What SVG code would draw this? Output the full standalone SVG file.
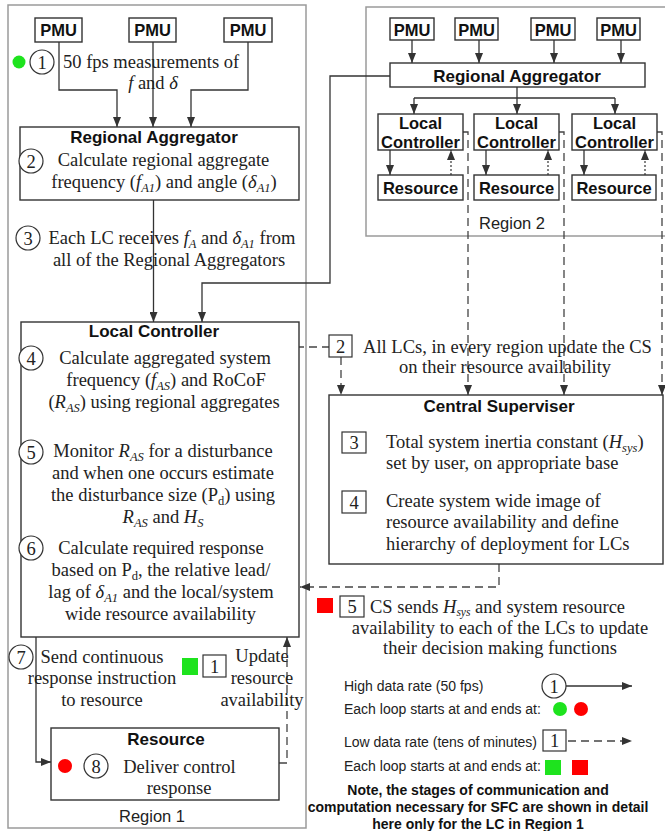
<svg xmlns="http://www.w3.org/2000/svg" width="665" height="831" viewBox="0 0 665 831">
<style>
.region{fill:none;stroke:#9a9a9a;stroke-width:1.5}
.box{fill:#fff;stroke:#333;stroke-width:1.4}
.sbox{fill:#fff;stroke:#333;stroke-width:1.2}
.circ{fill:#fff;stroke:#333;stroke-width:1.2}
.ln{fill:none;stroke:#333;stroke-width:1.3}
.dash{fill:none;stroke:#444;stroke-width:1.3;stroke-dasharray:8,5}
.dot{fill:none;stroke:#444;stroke-width:1.3;stroke-dasharray:2,2}
.t{font-family:"Liberation Serif","Times New Roman",serif;font-size:18.5px;fill:#222}
.tm{text-anchor:middle}
.b{font-family:"Liberation Sans",Arial,sans-serif;font-weight:bold;font-size:17px;fill:#111;text-anchor:middle}
.b16{font-family:"Liberation Sans",Arial,sans-serif;font-weight:bold;font-size:16.5px;fill:#111;text-anchor:middle}
.s{font-family:"Liberation Sans",Arial,sans-serif;font-size:16.5px;fill:#222;text-anchor:middle}
.lg{font-family:"Liberation Sans",Arial,sans-serif;font-size:14px;fill:#222}
.nb{font-family:"Liberation Sans",Arial,sans-serif;font-weight:bold;font-size:14px;fill:#111;text-anchor:middle}
.i{font-style:italic}
</style>
<defs>
<marker id="ah" viewBox="0 0 10 8" refX="10" refY="4" markerWidth="10" markerHeight="8" markerUnits="userSpaceOnUse" orient="auto">
<path d="M0,0 L10,4 L0,8 z" fill="#333"/>
</marker>
</defs>

<!-- Regions -->
<g id="region1">
<rect class="region" x="8" y="5" width="298" height="823"/>
<text class="s" x="152" y="822">Region 1</text>
</g>
<g id="region2">
<rect class="region" x="366" y="7" width="320" height="229"/>
<text class="s" x="512" y="229">Region 2</text>
</g>

<!-- Connectors -->
<g id="connectors">
<path class="ln" d="M59,42 V90 H117 V127" marker-end="url(#ah)"/>
<path class="ln" d="M153,42 V127" marker-end="url(#ah)"/>
<path class="ln" d="M248,42 V90 H191 V127" marker-end="url(#ah)"/>
<path class="ln" d="M153.5,200 V322" marker-end="url(#ah)"/>
<path class="ln" d="M390,76 H330 V283 H202 V322" marker-end="url(#ah)"/>
<path class="ln" d="M36,637 V762 H51" marker-end="url(#ah)"/>
<path class="dash" d="M279,763 H287 V637" marker-end="url(#ah)"/>
<path class="dash" d="M287,637 V347 H329"/>
<path class="dash" d="M341,357 V395" marker-end="url(#ah)"/>
<path class="dash" d="M463,132 H468 V395" marker-end="url(#ah)"/>
<path class="dash" d="M559,132 H564 V395" marker-end="url(#ah)"/>
<path class="dash" d="M657,132 H662 V395" marker-end="url(#ah)"/>
<path class="dash" d="M499,564 V587 H300" marker-end="url(#ah)"/>
<!-- Region 2 internal -->
<path class="ln" d="M412,40 V63" marker-end="url(#ah)"/>
<path class="ln" d="M479,40 V63" marker-end="url(#ah)"/>
<path class="ln" d="M554,40 V63" marker-end="url(#ah)"/>
<path class="ln" d="M621,40 V63" marker-end="url(#ah)"/>
<path class="ln" d="M517,87 V98 M414,98 H615"/>
<path class="ln" d="M414,98 V114" marker-end="url(#ah)"/>
<path class="ln" d="M517,98 V114" marker-end="url(#ah)"/>
<path class="ln" d="M615,98 V114" marker-end="url(#ah)"/>
<path class="ln" d="M390,150 V175" marker-end="url(#ah)"/>
<path class="ln" d="M486,150 V175" marker-end="url(#ah)"/>
<path class="ln" d="M584,150 V175" marker-end="url(#ah)"/>
<path class="dot" d="M451,175 V150" marker-end="url(#ah)"/>
<path class="dot" d="M548,175 V150" marker-end="url(#ah)"/>
<path class="dot" d="M645,175 V150" marker-end="url(#ah)"/>
</g>

<!-- Region 1 PMUs -->
<g id="pmu1a"><rect class="box" x="35" y="18" width="47" height="24"/><text class="b16" x="58.5" y="36">PMU</text></g>
<g id="pmu1b"><rect class="box" x="129" y="18" width="47" height="24"/><text class="b16" x="152.5" y="36">PMU</text></g>
<g id="pmu1c"><rect class="box" x="224" y="18" width="48" height="24"/><text class="b16" x="248" y="36">PMU</text></g>

<g id="step1">
<circle cx="19" cy="62" r="6.5" fill="#1ee31e"/>
<circle class="circ" cx="42" cy="62" r="12"/>
<text class="t tm" x="42" y="68.5">1</text>
<text class="t" x="63" y="67.5">50 fps measurements of</text>
<text class="t tm" x="153" y="88.5"><tspan class="i">f</tspan> and <tspan class="i">δ</tspan></text>
</g>

<!-- Regional Aggregator region 1 -->
<g id="ra1">
<rect class="box" x="20" y="127" width="279" height="73"/>
<text class="b" x="154" y="143">Regional Aggregator</text>
<circle class="circ" cx="31" cy="161" r="12"/>
<text class="t tm" x="31" y="167.5">2</text>
<text class="t tm" x="163.5" y="166">Calculate regional aggregate</text>
<text class="t tm" x="164" y="188">frequency (<tspan class="i">f</tspan><tspan class="i" font-size="12.5" dy="4">A1</tspan><tspan dy="-4">) and angle (</tspan><tspan class="i">δ</tspan><tspan class="i" font-size="12.5" dy="4">A1</tspan><tspan dy="-4">)</tspan></text>
</g>

<g id="step3">
<circle class="circ" cx="28" cy="238" r="12"/>
<text class="t tm" x="28" y="244.5">3</text>
<text class="t tm" x="172" y="244">Each LC receives <tspan class="i">f</tspan><tspan class="i" font-size="12.5" dy="4">A</tspan><tspan dy="-4"> and </tspan><tspan class="i">δ</tspan><tspan class="i" font-size="12.5" dy="4">A1</tspan><tspan dy="-4"> from</tspan></text>
<text class="t tm" x="169" y="266">all of the Regional Aggregators</text>
</g>

<!-- Local Controller region 1 -->
<g id="lc1">
<rect class="box" x="21" y="322" width="278" height="315"/>
<text class="b" x="154" y="337">Local Controller</text>
<circle class="circ" cx="31" cy="358" r="12"/>
<text class="t tm" x="31" y="364.5">4</text>
<text class="t tm" x="165" y="364">Calculate aggregated system</text>
<text class="t tm" x="166" y="386">frequency (<tspan class="i">f</tspan><tspan class="i" font-size="12.5" dy="4">AS</tspan><tspan dy="-4">) and RoCoF</tspan></text>
<text class="t tm" x="164" y="408">(<tspan class="i">R</tspan><tspan class="i" font-size="12.5" dy="4">AS</tspan><tspan dy="-4">) using regional aggregates</tspan></text>
<circle class="circ" cx="31" cy="452" r="12"/>
<text class="t tm" x="31" y="458.5">5</text>
<text class="t tm" x="163" y="457">Monitor <tspan class="i">R</tspan><tspan class="i" font-size="12.5" dy="4">AS</tspan><tspan dy="-4"> for a disturbance</tspan></text>
<text class="t tm" x="163" y="479">and when one occurs estimate</text>
<text class="t tm" x="163" y="501">the disturbance size (P<tspan font-size="12.5" dy="4">d</tspan><tspan dy="-4">) using</tspan></text>
<text class="t tm" x="163" y="523"><tspan class="i">R</tspan><tspan class="i" font-size="12.5" dy="4">AS</tspan><tspan dy="-4"> and </tspan><tspan class="i">H</tspan><tspan class="i" font-size="12.5" dy="4">S</tspan></text>
<circle class="circ" cx="31" cy="548" r="12"/>
<text class="t tm" x="31" y="554.5">6</text>
<text class="t tm" x="161" y="554">Calculate required response</text>
<text class="t tm" x="161" y="576">based on P<tspan font-size="12.5" dy="4">d</tspan><tspan dy="-4">, the relative lead/</tspan></text>
<text class="t tm" x="161" y="598">lag of <tspan class="i">δ</tspan><tspan class="i" font-size="12.5" dy="4">A1</tspan><tspan dy="-4"> and the local/system</tspan></text>
<text class="t tm" x="160.5" y="620">wide resource availability</text>
</g>

<g id="step7">
<circle class="circ" cx="21" cy="657" r="12"/>
<text class="t tm" x="21" y="663.5">7</text>
<text class="t tm" x="102" y="663">Send continuous</text>
<text class="t tm" x="102" y="684">response instruction</text>
<text class="t tm" x="102" y="706">to resource</text>
</g>

<g id="update1">
<rect x="182" y="658" width="16" height="17" fill="#1ee31e"/>
<rect class="sbox" x="203" y="655" width="23" height="22"/>
<text class="t tm" x="214.5" y="672.5">1</text>
<text class="t tm" x="262" y="662">Update</text>
<text class="t tm" x="262" y="684">resource</text>
<text class="t tm" x="262" y="706">availability</text>
</g>

<!-- Resource region 1 -->
<g id="res1">
<rect class="box" x="51" y="728" width="228" height="72"/>
<text class="b" x="166" y="745">Resource</text>
<circle cx="65" cy="766" r="7" fill="#f00"/>
<circle class="circ" cx="96" cy="766" r="12"/>
<text class="t tm" x="96" y="772.5">8</text>
<text class="t tm" x="179.5" y="773">Deliver control</text>
<text class="t tm" x="179" y="794">response</text>
</g>

<!-- Region 2 nodes -->
<g id="pmu2a"><rect class="box" x="390" y="18" width="44" height="22"/><text class="b16" x="412" y="35.5">PMU</text></g>
<g id="pmu2b"><rect class="box" x="455" y="18" width="43" height="22"/><text class="b16" x="476.5" y="35.5">PMU</text></g>
<g id="pmu2c"><rect class="box" x="531" y="18" width="44" height="22"/><text class="b16" x="553" y="35.5">PMU</text></g>
<g id="pmu2d"><rect class="box" x="597" y="18" width="43" height="22"/><text class="b16" x="618.5" y="35.5">PMU</text></g>
<g id="ra2"><rect class="box" x="390" y="63" width="255" height="24"/><text class="b" x="517" y="81.5">Regional Aggregator</text></g>
<g id="lc2a"><rect class="box" x="378" y="114" width="85" height="36"/><text class="b16" x="420.5" y="129">Local</text><text class="b16" x="420.5" y="147.5">Controller</text></g>
<g id="lc2b"><rect class="box" x="474" y="114" width="85" height="36"/><text class="b16" x="516.5" y="129">Local</text><text class="b16" x="516.5" y="147.5">Controller</text></g>
<g id="lc2c"><rect class="box" x="572" y="114" width="85" height="36"/><text class="b16" x="614.5" y="129">Local</text><text class="b16" x="614.5" y="147.5">Controller</text></g>
<g id="res2a"><rect class="box" x="378" y="175" width="85" height="25"/><text class="b16" x="420.5" y="193.5">Resource</text></g>
<g id="res2b"><rect class="box" x="474" y="175" width="85" height="25"/><text class="b16" x="516.5" y="193.5">Resource</text></g>
<g id="res2c"><rect class="box" x="572" y="175" width="84" height="25"/><text class="b16" x="614" y="193.5">Resource</text></g>

<!-- Step 2 CS update -->
<g id="step2cs">
<rect class="sbox" x="329" y="335" width="23" height="22"/>
<text class="t tm" x="340.5" y="352.5">2</text>
<text class="t tm" x="507.5" y="353">All LCs, in every region update the CS</text>
<text class="t tm" x="505" y="373">on their resource availability</text>
</g>

<!-- Central Superviser -->
<g id="cs">
<rect class="box" x="329" y="395" width="334" height="169"/>
<text class="b" x="499" y="412">Central Superviser</text>
<rect class="sbox" x="342" y="432" width="24" height="21"/>
<text class="t" x="354" y="449" text-anchor="middle">3</text>
<text class="t" x="386" y="448">Total system inertia constant (<tspan class="i">H</tspan><tspan class="i" font-size="12.5" dy="4">sys</tspan><tspan dy="-4">)</tspan></text>
<text class="t" x="386" y="469">set by user, on appropriate base</text>
<rect class="sbox" x="342" y="491" width="24" height="22"/>
<text class="t" x="354" y="508.5" text-anchor="middle">4</text>
<text class="t" x="386" y="507">Create system wide image of</text>
<text class="t" x="386" y="528">resource availability and define</text>
<text class="t" x="386" y="550">hierarchy of deployment for LCs</text>
</g>

<g id="step5cs">
<rect x="317" y="598" width="16" height="15" fill="#f00"/>
<rect class="sbox" x="340" y="596" width="24" height="21"/>
<text class="t tm" x="352" y="613">5</text>
<text class="t" x="370" y="612.5">CS sends <tspan class="i">H</tspan><tspan class="i" font-size="11.5" dy="3">sys</tspan><tspan dy="-3"> and system resource</tspan></text>
<text class="t tm" x="500" y="634">availability to each of the LCs to update</text>
<text class="t tm" x="500" y="654">their decision making functions</text>
</g>

<!-- Legend -->
<g id="legend">
<text class="lg" x="344" y="691">High data rate (50 fps)</text>
<circle class="circ" cx="554" cy="686" r="12"/>
<text class="t tm" x="554" y="692.5">1</text>
<path class="ln" d="M566,686 H632" marker-end="url(#ah)"/>
<text class="lg" x="344" y="714">Each loop starts at and ends at:</text>
<circle cx="560" cy="709" r="7" fill="#1ee31e"/>
<circle cx="581" cy="709" r="7" fill="#f00"/>
<text class="lg" x="344" y="747">Low data rate (tens of minutes)</text>
<rect class="sbox" x="543" y="730" width="23" height="21"/>
<text class="t tm" x="554.5" y="747">1</text>
<path class="dash" d="M568,741 H632" marker-end="url(#ah)"/>
<text class="lg" x="344" y="771">Each loop starts at and ends at:</text>
<rect x="545" y="760" width="16" height="15" fill="#1ee31e"/>
<rect x="572" y="760" width="16" height="15" fill="#f00"/>
<text class="nb" x="478" y="795">Note, the stages of communication and</text>
<text class="nb" x="478" y="812">computation necessary for SFC are shown in detail</text>
<text class="nb" x="478" y="829">here only for the LC in Region 1</text>
</g>
</svg>
